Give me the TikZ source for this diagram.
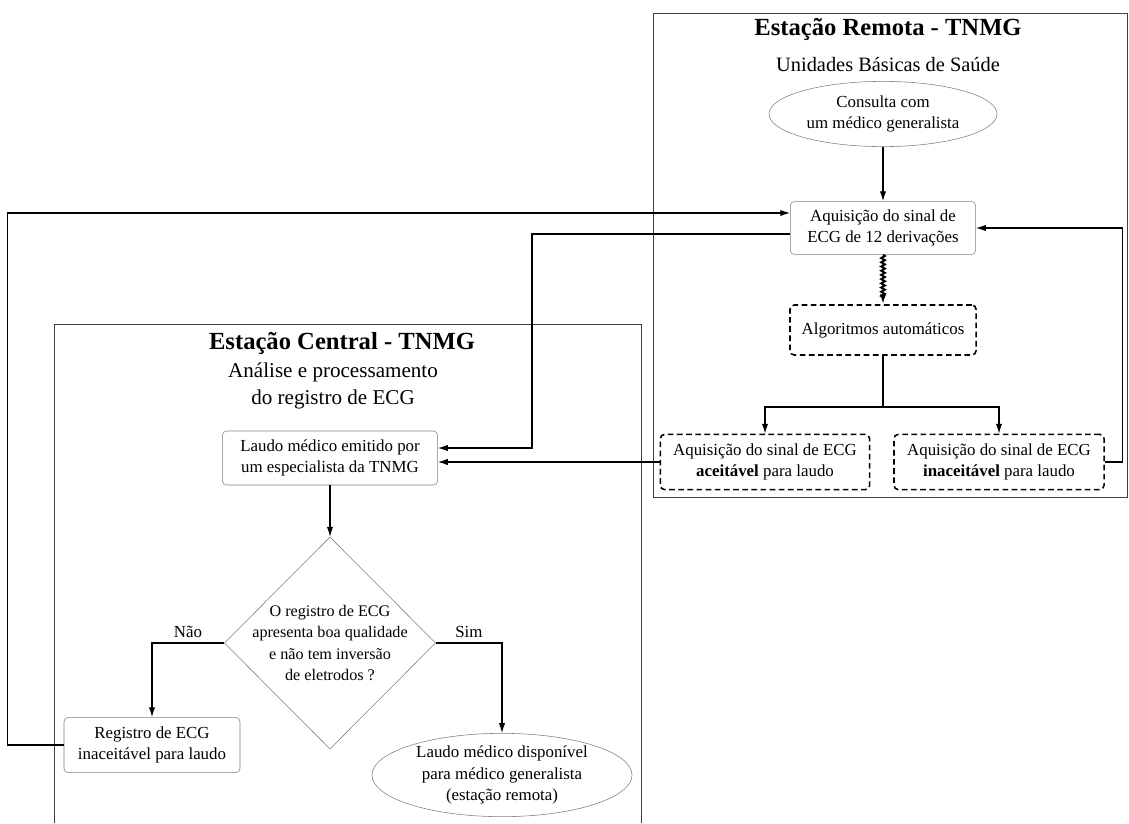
\documentclass[tikz,border=0pt]{standalone}
\usepackage{fontspec}
\setmainfont{Liberation Serif}
\usetikzlibrary{arrows.meta,shapes.geometric,decorations.pathmorphing}
\begin{document}
\begin{tikzpicture}[
        x=0.025cm, y=-0.025cm,
        box/.style={rectangle, rounded corners=3pt, draw=gray, align=center, inner sep=2pt},
        autobox/.style={rectangle, rounded corners=3pt, draw, line width=1.1pt, dash pattern=on 4pt off 2.5pt, align=center, inner sep=2pt},
        oval/.style={ellipse, draw=gray, align=center, inner sep=0pt},
        decision/.style={diamond, draw=gray, inner sep=0pt, minimum width=5.28cm, minimum height=5.3cm},
        frame/.style={draw=black!75},
        edge/.style={-{Latex[length=7pt,width=4.5pt]}, thick},
        every node/.style={font=\fontsize{12}{15.5}\selectfont}
      ]
      \useasboundingbox (0,0) rectangle (1129,823);
      % remote station
      \draw[frame] (653,13) rectangle (1127,497);
      \node[font=\fontsize{17.5}{20}\selectfont\bfseries] (rtitle) at (888,29) {Estação Remota - TNMG};
      \node[font=\fontsize{14.5}{17}\selectfont] (rsub) at (888,65) {Unidades Básicas de Saúde};
      \node[oval, minimum width=5.7cm, minimum height=1.63cm] (cons) at (883,114) {Consulta com\\um médico generalista};
      \node[box, minimum width=4.63cm, minimum height=1.33cm] (acq) at (883,228) {Aquisição do sinal de\\ECG de 12 derivações};
      \node[autobox, minimum width=4.65cm, minimum height=1.25cm] (algo) at (883,330) {Algoritmos automáticos};
      \node[autobox, minimum width=5.23cm, minimum height=1.38cm] (ok) at (765,462) {Aquisição do sinal de ECG\\\textbf{aceitável} para laudo};
      \node[autobox, minimum width=5.25cm, minimum height=1.38cm] (nok) at (999,462) {Aquisição do sinal de ECG\\\textbf{inaceitável} para laudo};
      \coordinate (split) at (883,407);
      % central station
      \draw[frame] (54,823) |- (641,324) -- (641,823);
      \node[font=\fontsize{17.5}{20}\selectfont\bfseries] (ctitle) at (342,343) {Estação Central - TNMG};
      \node[font=\fontsize{15}{19.5}\selectfont, align=center] (csub) at (333,386) {Análise e processamento\\do registro de ECG};
      \node[box, minimum width=5.38cm, minimum height=1.35cm] (laudo) at (330,458) {Laudo médico emitido por\\um especialista da TNMG};
      \node[decision, label={[align=center, font=\fontsize{11.5}{15}\selectfont]center:O registro de ECG\\apresenta boa qualidade\\e não tem inversão\\de eletrodos ?}] (dec) at (330,643) {};
      \node[box, minimum width=4.4cm, minimum height=1.38cm] (reg) at (152,745) {Registro de ECG\\inaceitável para laudo};
      \node[oval, minimum width=6.5cm, minimum height=1.88cm] (disp) at (502,775) {Laudo médico disponível\\para médico generalista\\(estação remota)};
      \coordinate (c1) at (532,448);
      % connectors
      \draw[edge] (cons) -- (acq);
      \draw[edge, line width=1.4pt, decorate, decoration={zigzag, amplitude=1.3pt, segment length=3pt, post length=5pt}] (acq) -- (algo);
      \draw[thick] (algo) -- (split);
      \draw[edge] (split) -| (ok);
      \draw[edge] (split) -| (nok);
      \draw[edge] (nok.east) -- ++(18,0) |- (acq.east);
      \draw[edge] (ok.west) -- (ok.west -| laudo.east);
      \draw[edge] ([yshift=-0.15cm]acq.west) -| (c1) -- (c1 -| laudo.east);
      \draw[edge] (laudo) -- (dec);
      \draw[edge] (dec.west) -| node[pos=0.25, above] {Não} (reg);
      \draw[edge] (dec.east) -| node[pos=0.25, above] {Sim} (disp);
      \draw[edge] (reg.west) -- ++(-56,0) |- ([yshift=0.375cm]acq.west);
    \end{tikzpicture}
\end{document}
